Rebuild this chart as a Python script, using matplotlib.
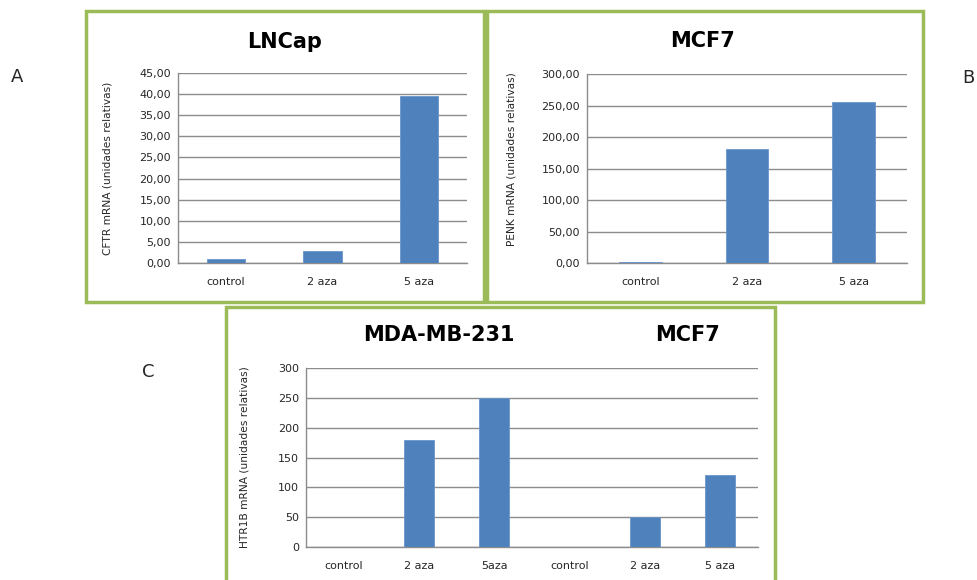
import matplotlib.pyplot as plt
from matplotlib.patches import Rectangle
from matplotlib.ticker import FuncFormatter

plt.rcParams['font.family'] = ['DejaVu Sans']

# panel A - LNCap
a_cats = ["control", "2 aza", "5 aza"]
a_vals = [1.0, 2.8, 39.5]
a_ticks = [0, 5, 10, 15, 20, 25, 30, 35, 40, 45]

# panel B - MCF7
b_cats = ["control", "2 aza", "5 aza"]
b_vals = [2.0, 181.0, 255.0]
b_ticks = [0, 50, 100, 150, 200, 250, 300]

# panel C - MDA-MB-231 and MCF7
c_cats = ["control", "2 aza", "5aza", "control", "2 aza", "5 aza"]
c_vals = [0, 180, 250, 0, 50, 120]
c_ticks = [0, 50, 100, 150, 200, 250, 300]

W, H = 978, 580
BAR = "#4F81BD"
GREEN = "#9BBB59"
GRID = "#8C8C8C"
TXT = "#262626"

fig = plt.figure(figsize=(W / 100, H / 100), dpi=100)


def px_rect(x0, y0, x1, y1):
    # pixel box (top-left origin) -> figure fraction [l, b, w, h]
    return [x0 / W, 1 - y1 / H, (x1 - x0) / W, (y1 - y0) / H]


def frame(x0, y0, x1, y1):
    l, b, w, h = px_rect(x0, y0, x1, y1)
    fig.patches.append(Rectangle((l, b), w, h, transform=fig.transFigure,
                                 fill=False, edgecolor=GREEN, linewidth=2.5))


def comma_fmt(v, pos):
    return f"{v:.2f}".replace(".", ",")


def bar_panel(box, cats, vals, ticks, ylabel, fmt=None):
    ax = fig.add_axes(px_rect(*box))
    x = range(len(cats))
    ax.bar(x, vals, width=0.4, color=BAR, edgecolor="#6A96CC", linewidth=0.6, zorder=3)
    ax.set_xlim(-0.5, len(cats) - 0.5)
    ax.set_ylim(ticks[0], ticks[-1])
    ax.set_yticks(ticks)
    if fmt:
        ax.yaxis.set_major_formatter(FuncFormatter(fmt))
    ax.set_xticks(list(x))
    ax.set_xticklabels(cats)
    ax.yaxis.grid(True, color=GRID, linewidth=1.0, zorder=0)
    for s in ("top", "right"):
        ax.spines[s].set_visible(False)
    for s in ("left", "bottom"):
        ax.spines[s].set_color(GRID)
        ax.spines[s].set_linewidth(1.0)
    ax.tick_params(length=0, labelsize=8, colors=TXT, pad=5)
    ax.tick_params(axis="x", pad=10)
    ax.set_ylabel(ylabel, fontsize=7.7, color=TXT)
    return ax


# outer green frames
frame(86, 11, 484, 302)
frame(487, 11, 923, 302)
frame(226, 307, 775, 590)

ax_a = bar_panel((178, 73, 467, 263), a_cats, a_vals, a_ticks,
                 "CFTR mRNA (unidades relativas)", comma_fmt)
ax_a.yaxis.set_label_coords(-0.225, 0.5)
fig.text(285 / W, 1 - 42 / H, "LNCap", fontsize=15, fontweight="bold",
         ha="center", va="center", color="black")

ax_b = bar_panel((587, 74, 907, 263), b_cats, b_vals, b_ticks,
                 "PENK mRNA (unidades relativas)", comma_fmt)
ax_b.yaxis.set_label_coords(-0.22, 0.55)
fig.text(703 / W, 1 - 41 / H, "MCF7", fontsize=15, fontweight="bold",
         ha="center", va="center", color="black")

ax_c = bar_panel((306, 368, 758, 547), c_cats, c_vals, c_ticks,
                 "HTR1B mRNA (unidades relativas)")
ax_c.yaxis.set_label_coords(-0.125, 0.5)
fig.text(439 / W, 1 - 335 / H, "MDA-MB-231", fontsize=15, fontweight="bold",
         ha="center", va="center", color="black")
fig.text(688 / W, 1 - 335 / H, "MCF7", fontsize=15, fontweight="bold",
         ha="center", va="center", color="black")

# panel letters
fig.text(17 / W, 1 - 77 / H, "A", fontsize=13, ha="center", va="center", color=TXT)
fig.text(968 / W, 1 - 78 / H, "B", fontsize=13, ha="center", va="center", color=TXT)
fig.text(148 / W, 1 - 372 / H, "C", fontsize=13, ha="center", va="center", color=TXT)

fig.savefig("out.png", dpi=100, facecolor="white")
